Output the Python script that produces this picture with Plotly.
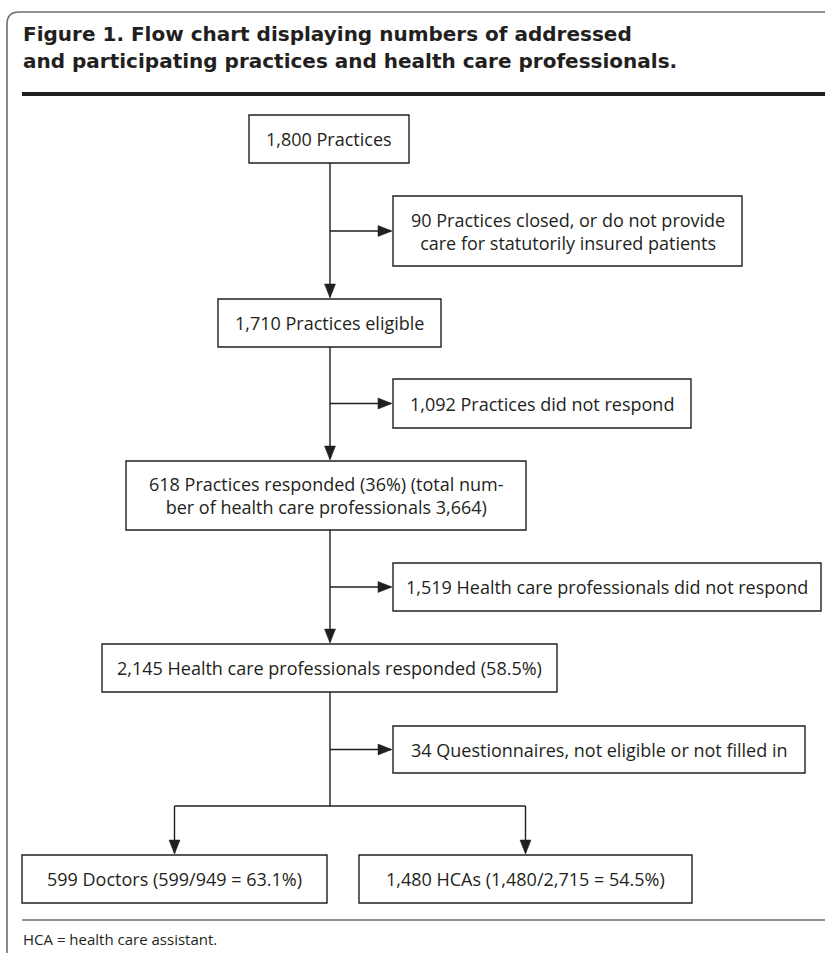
import plotly.graph_objects as go

# ---------------- data (texts / counts) ----------------
title_lines = [
    "Figure 1. Flow chart displaying numbers of addressed",
    "and participating practices and health care professionals.",
]
stage_labels = [
    "1,800 Practices",
    "1,710 Practices eligible",
    "618 Practices responded (36%) (total num-<br>ber of health care professionals 3,664)",
    "2,145 Health care professionals responded (58.5%)",
]
excluded_labels = [
    "90 Practices closed, or do not provide<br>care for statutorily insured patients",
    "1,092 Practices did not respond",
    "1,519 Health care professionals did not respond",
    "34 Questionnaires, not eligible or not filled in",
]
group_labels = [
    "599 Doctors (599/949 = 63.1%)",
    "1,480 HCAs (1,480/2,715 = 54.5%)",
]
footnote = "HCA = health care assistant."

# ---------------- layout geometry (pixel space) ----------------
W, H = 825, 953
stage_boxes = [(249, 409, 115, 163), (218, 441, 299, 347), (126, 526, 461, 530), (102, 557, 644, 692)]
excl_boxes = [(393, 742, 196, 266), (393, 691, 379, 428), (393, 821, 563, 611), (393, 805, 726, 773)]
group_boxes = [(22, 327, 855, 903), (359, 692, 855, 903)]
SPINE_X = 330
SPLIT_Y = 806
LINE_C = "#231f20"
TEXT_C = "#231f20"
BOX_FONT = dict(family="Open Sans", size=18, color=TEXT_C)

shapes = []
annotations = []


def box(b, text):
    x0, x1, y0, y1 = b
    shapes.append(dict(type="rect", x0=x0, x1=x1, y0=y0, y1=y1, xref="x", yref="y",
                       line=dict(color=LINE_C, width=1.4), fillcolor="white", layer="above"))
    annotations.append(dict(x=(x0 + x1) / 2, y=(y0 + y1) / 2, xref="x", yref="y", text=text,
                            showarrow=False, font=BOX_FONT, align="center",
                            xanchor="center", yanchor="middle"))


def seg(x0, y0, x1, y1):
    shapes.append(dict(type="line", x0=x0, y0=y0, x1=x1, y1=y1, xref="x", yref="y",
                       line=dict(color=LINE_C, width=1.4)))


def head(x, y, direction, L=14, hw=5.5):
    if direction == "down":
        p = f"M {x},{y} L {x-hw},{y-L} L {x+hw},{y-L} Z"
    else:  # right
        p = f"M {x},{y} L {x-L},{y-hw} L {x-L},{y+hw} Z"
    shapes.append(dict(type="path", path=p, xref="x", yref="y",
                       fillcolor=LINE_C, line=dict(color=LINE_C, width=0.5)))


# main flow arrows + side branches
for i in range(len(stage_boxes)):
    x0, x1, y0, y1 = stage_boxes[i]
    ex = excl_boxes[i]
    branch_y = (ex[2] + ex[3]) / 2
    last = i + 1 >= len(stage_boxes)
    end_y = SPLIT_Y if last else stage_boxes[i + 1][2]
    seg(SPINE_X, y1, SPINE_X, end_y - (0 if last else 2))
    if not last:
        head(SPINE_X, end_y - 1, "down")
    seg(SPINE_X, branch_y, ex[0] - 2, branch_y)
    head(ex[0] - 1, branch_y, "right")

# split into groups
gcx = [(g[0] + g[1]) / 2 for g in group_boxes]
seg(gcx[0], SPLIT_Y, gcx[1], SPLIT_Y)
for cx, g in zip(gcx, group_boxes):
    seg(cx, SPLIT_Y, cx, g[2] - 2)
    head(cx, g[2] - 1, "down")

for b, t in zip(stage_boxes, stage_labels):
    box(b, t)
for b, t in zip(excl_boxes, excluded_labels):
    box(b, t)
for b, t in zip(group_boxes, group_labels):
    box(b, t)

# outer frame with rounded top-left corner
shapes.append(dict(type="path", path=f"M {W+5},12 L 19,12 Q 7,12 7,24 L 7,{H+5}",
                   xref="x", yref="y", line=dict(color="#6d6e71", width=1.6)))
# thick title rule
shapes.append(dict(type="line", x0=22, x1=W + 5, y0=94, y1=94, xref="x", yref="y",
                   line=dict(color=LINE_C, width=4)))
# footer rule
shapes.append(dict(type="line", x0=22, x1=W + 5, y0=920, y1=920, xref="x", yref="y",
                   line=dict(color="#6d6e71", width=1.6)))

# title
for k, line in enumerate(title_lines):
    annotations.append(dict(x=21, y=34 + 27 * k, xref="x", yref="y", text=line, showarrow=False,
                            xanchor="left", yanchor="middle",
                            font=dict(family="DejaVu Sans", size=20, color=TEXT_C, weight="bold")))
# footnote
annotations.append(dict(x=21, y=939, xref="x", yref="y", text=footnote, showarrow=False,
                        xanchor="left", yanchor="middle",
                        font=dict(family="Open Sans", size=15, color=TEXT_C)))

fig = go.Figure(go.Scatter(x=[0], y=[0], mode="markers", marker=dict(opacity=0),
                           hoverinfo="skip", showlegend=False))
fig.update_layout(
    width=W, height=H, margin=dict(l=0, r=0, t=0, b=0),
    paper_bgcolor="white", plot_bgcolor="white",
    xaxis=dict(range=[0, W], visible=False, fixedrange=True),
    yaxis=dict(range=[H, 0], visible=False, fixedrange=True),
    shapes=shapes, annotations=annotations, showlegend=False,
)
fig.write_html("out.html", config={"displayModeBar": False},
               post_script="document.body.style.margin='0';document.body.style.overflow='hidden';")
